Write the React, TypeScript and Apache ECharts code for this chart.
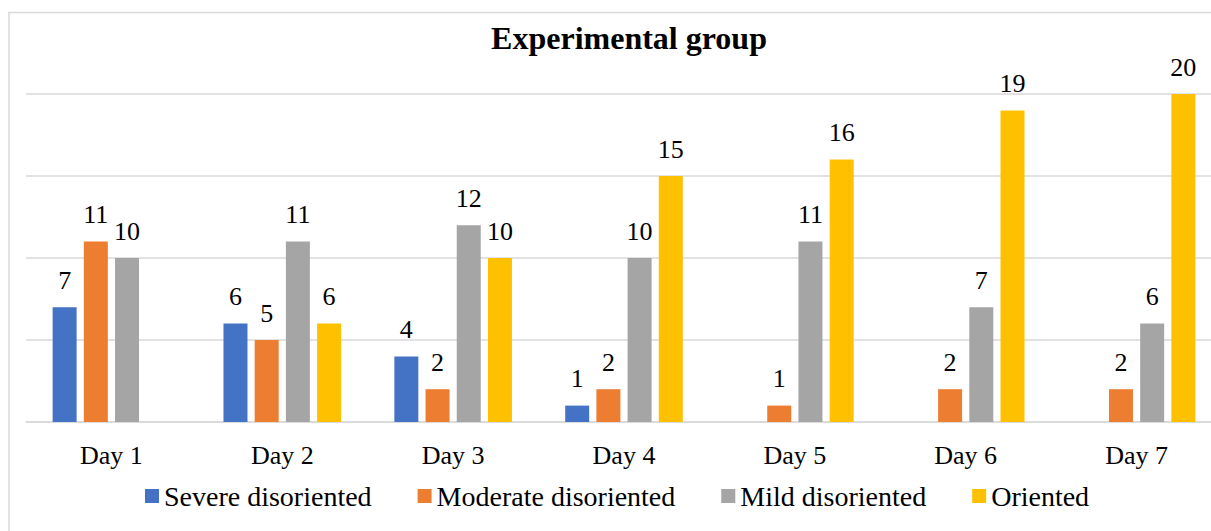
import React, { useEffect, useRef } from "react";
import * as echarts from "echarts";

const categories = ["Day 1", "Day 2", "Day 3", "Day 4", "Day 5", "Day 6", "Day 7"];
const severe = [7, 6, 4, 1, 0, 0, 0];
const moderate = [11, 5, 2, 2, 1, 2, 2];
const mild = [10, 11, 12, 10, 11, 7, 6];
const oriented = [0, 6, 10, 15, 16, 19, 20];
const seriesNames = ["Severe disoriented", "Moderate disoriented", "Mild disoriented", "Oriented"];
const colors = ["#4472C4", "#ED7D31", "#A5A5A5", "#FFC000"];

const FONT = "Times New Roman, Liberation Serif, serif";

export default function App() {
  const ref = useRef<HTMLDivElement>(null);
  useEffect(() => {
    if (!ref.current) return;
    const chart = echarts.init(ref.current, null, { renderer: "svg" });
    const values = [severe, moderate, mild, oriented];
    chart.setOption({
      animation: false,
      backgroundColor: "#ffffff",
      textStyle: { fontFamily: FONT, color: "#000" },
      title: {
        text: "Experimental group",
        left: 624,
        top: 17,
        textAlign: "center",
        textStyle: { fontFamily: FONT, fontWeight: "bold", fontSize: 32, color: "#000" },
      },
      graphic: [
        {
          type: "rect",
          shape: { x: 9, y: 12.5, width: 1400, height: 700 },
          style: { fill: "none", stroke: "#d9d9d9", lineWidth: 1.5 },
          silent: true,
        },
      ],
      legend: {
        top: 477,
        left: 140,
        itemWidth: 14,
        itemHeight: 14,
        itemGap: 46,
        icon: "rect",
        textStyle: { fontFamily: FONT, fontWeight: "normal", fontSize: 28, color: "#000" },
        data: seriesNames,
      },
      grid: { left: 26, right: 18, top: 94, bottom: 109, containLabel: false },
      xAxis: {
        type: "category",
        data: categories,
        axisLine: { lineStyle: { color: "#d9d9d9", width: 1.5 } },
        axisTick: { show: false },
        axisLabel: { fontFamily: FONT, fontWeight: "normal", fontSize: 26, color: "#000", margin: 20 },
      },
      yAxis: {
        type: "value",
        min: 0,
        max: 20,
        interval: 5,
        axisLabel: { show: false },
        axisLine: { show: false },
        axisTick: { show: false },
        splitLine: { lineStyle: { color: "#d9d9d9", width: 1.5 } },
      },
      series: seriesNames.map((name, i) => ({
        name,
        type: "bar",
        data: values[i],
        barWidth: 24,
        barGap: "30%",
        itemStyle: { color: colors[i] },
        label: {
          show: true,
          position: "top",
          distance: 14,
          fontFamily: FONT,
          fontWeight: "normal",
          fontSize: 26,
          color: "#000",
          formatter: (p: any) => (p.value === 0 ? "" : String(p.value)),
        },
      })),
    });
    return () => chart.dispose();
  }, []);
  return (
    <div style={{ position: "fixed", left: 0, top: 0, width: 1211, height: 531, overflow: "hidden" }}>
      <div ref={ref} style={{ width: 1240, height: 531 }} />
    </div>
  );
}
